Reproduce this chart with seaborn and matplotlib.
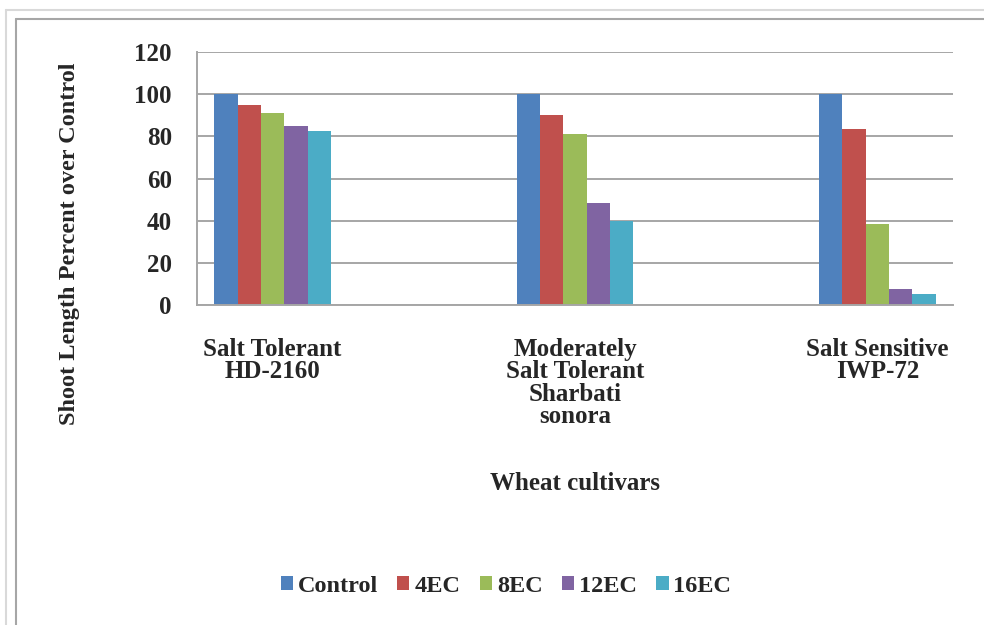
import pandas as pd
import matplotlib.pyplot as plt
import matplotlib.lines as mlines
import seaborn as sns

# data (percent over control)
cultivars = ["Salt Tolerant\nHD-2160", "Moderately\nSalt Tolerant\nSharbati\nsonora", "Salt Sensitive\nIWP-72"]
treatments = ["Control", "4EC", "8EC", "12EC", "16EC"]
control = [100, 100, 100]
ec4 = [95, 90, 83.5]
ec8 = [91, 81, 38.5]
ec12 = [85, 48.5, 7.5]
ec16 = [82.5, 40, 5]
colors = ["#4F81BD", "#C0504D", "#9BBB59", "#8064A2", "#4BACC6"]

# the original chart has empty category slots between the cultivars
slots = [cultivars[0], "gap1", cultivars[1], "gap2", cultivars[2]]

rows = []
for t, vals in zip(treatments, [control, ec4, ec8, ec12, ec16]):
    for c, v in zip(cultivars, vals):
        rows.append({"cultivar": c, "treatment": t, "value": v})
df = pd.DataFrame(rows)

sns.set_theme(style="white")
plt.rcParams["font.family"] = ["Liberation Serif", "DejaVu Serif"]
plt.rcParams["font.weight"] = "bold"

fig = plt.figure(figsize=(9.84, 6.25), dpi=100)
ax = fig.add_axes([197 / 984, 1 - 305 / 625, (953 - 197) / 984, (305 - 52) / 625])

sns.barplot(data=df, x="cultivar", y="value", hue="treatment", order=slots,
            hue_order=treatments, palette=colors, width=0.77, saturation=1,
            linewidth=0, ax=ax)

ax.set_xlim(-0.5, 4.5)
ax.set_ylim(0, 120)
ax.set_yticks(range(0, 121, 20))
ax.set_axisbelow(True)
ax.yaxis.grid(True, color="#A6A6A6", linewidth=1.4)
ax.tick_params(axis="y", length=7, width=1.2, color="#A6A6A6", pad=11, labelsize=18)

# boundary ticks on x, labels centred on the cultivar slots
ax.set_xticks([i - 0.5 for i in range(6)])
ax.set_xticklabels([])
ax.tick_params(axis="x", which="major", length=7, width=1.2, color="#A6A6A6")
ax.set_xticks([0, 2, 4], minor=True)
ax.set_xticklabels(cultivars, minor=True, fontsize=18, fontweight="bold", linespacing=0.95)
ax.tick_params(axis="x", which="minor", length=0, pad=24)
ax.set_xlabel("")
ax.set_ylabel("")

for s in ["top", "right"]:
    ax.spines[s].set_visible(False)
for s in ["left", "bottom"]:
    ax.spines[s].set_color("#A6A6A6")
    ax.spines[s].set_linewidth(1.4)

fig.text(70 / 984, 1 - 244 / 625, "Shoot Length Percent over Control", rotation=90,
         ha="center", va="center", fontsize=17.5, fontweight="bold")
fig.text(575 / 984, 1 - 484 / 625, "Wheat cultivars", ha="center", va="center",
         fontsize=18, fontweight="bold")

handles, labels = ax.get_legend_handles_labels()
ax.get_legend().remove()
fig.legend(handles, labels, loc="center", bbox_to_anchor=(506 / 984, 1 - 586 / 625),
           ncol=5, frameon=False, fontsize=17.5, handlelength=0.5, handleheight=0.5,
           handletextpad=0.2, columnspacing=0.8)

# chart-area border lines from the screenshot
for x, y, c in [(6, 10, "#D9D9D9"), (16, 19, "#A6A6A6")]:
    fig.add_artist(mlines.Line2D([x / 984, x / 984], [0, 1 - y / 625], color=c, lw=1.5))
    fig.add_artist(mlines.Line2D([x / 984, 1], [1 - y / 625, 1 - y / 625], color=c, lw=1.5))

fig.savefig("out.png", dpi=100)
